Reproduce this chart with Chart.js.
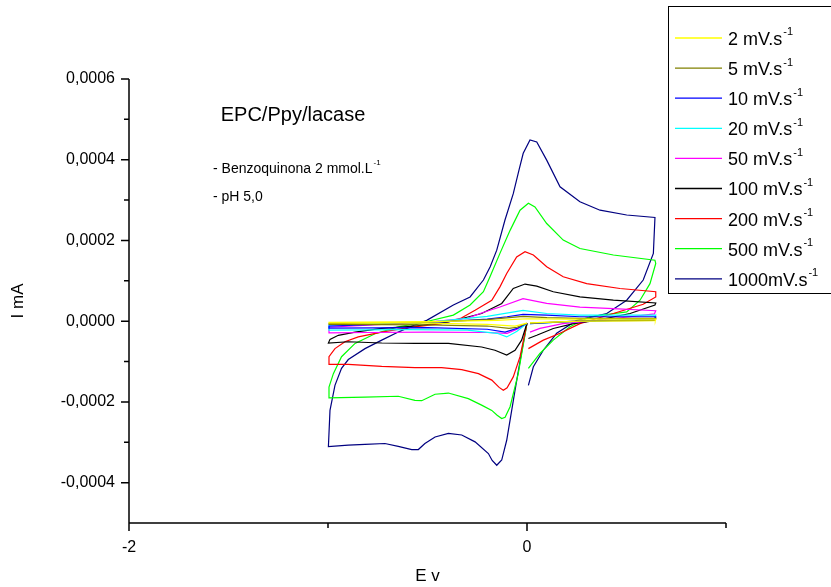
<!DOCTYPE html>
<html>
<head>
<meta charset="utf-8">
<script src="https://cdn.jsdelivr.net/npm/chart.js@4.4.0/dist/chart.umd.min.js"></script>
<style>
  html, body { margin: 0; padding: 0; background: #fff; }
  #wrap { width: 831px; height: 587px; }
</style>
</head>
<body>
<div id="wrap"><canvas id="cv" width="831" height="587"></canvas></div>
<script>
// cyclic voltammograms, E (V) vs I (mA), one scan per rate: 0 -> -1 -> +0.65 -> 0
var rateLabels = ['2 mV.s', '5 mV.s', '10 mV.s', '20 mV.s', '50 mV.s', '100 mV.s', '200 mV.s', '500 mV.s', '1000mV.s'];
var rateColors = ['#FFFF00', '#808000', '#0000FF', '#00FFFF', '#FF00FF', '#000000', '#FF0000', '#00FF00', '#000080'];

var e2 = [0.000, -0.060, -0.200, -0.500, -0.998, -0.995, -0.500, -0.150, 0.000, 0.200, 0.647, 0.645, 0.266, 0.015];
var i2 = [-0.05e-4, -0.12e-4, -0.08e-4, -0.05e-4, -0.04e-4, -0.03e-4, -0.01e-4, 0.02e-4, 0.06e-4, 0.05e-4, 0.05e-4, 0.01e-4, 0.00e-4, -0.04e-4];

var e5 = [0.000, -0.050, -0.090, -0.200, -0.500, -0.998, -0.995, -0.500, -0.200, -0.020, 0.100, 0.266, 0.647, 0.645, 0.266, 0.015];
var i5 = [-0.05e-4, -0.15e-4, -0.18e-4, -0.12e-4, -0.09e-4, -0.08e-4, -0.06e-4, -0.02e-4, 0.04e-4, 0.12e-4, 0.09e-4, 0.07e-4, 0.07e-4, 0.02e-4, 0.00e-4, -0.05e-4];

var e10 = [0.000, -0.050, -0.110, -0.200, -0.500, -0.998, -0.995, -0.700, -0.400, -0.200, -0.100, -0.020, 0.099, 0.266, 0.647, 0.645, 0.266, 0.015];
var i10 = [-0.05e-4, -0.18e-4, -0.27e-4, -0.20e-4, -0.16e-4, -0.17e-4, -0.12e-4, -0.07e-4, -0.01e-4, 0.05e-4, 0.11e-4, 0.17e-4, 0.15e-4, 0.11e-4, 0.11e-4, 0.04e-4, 0.01e-4, -0.06e-4];

var e20 = [0.000, -0.050, -0.102, -0.150, -0.300, -0.600, -0.998, -0.995, -0.500, -0.200, -0.020, 0.099, 0.266, 0.647, 0.640, 0.434, 0.180, 0.015];
var i20 = [-0.05e-4, -0.25e-4, -0.39e-4, -0.30e-4, -0.22e-4, -0.21e-4, -0.22e-4, -0.10e-4, -0.03e-4, 0.12e-4, 0.27e-4, 0.19e-4, 0.15e-4, 0.15e-4, 0.07e-4, 0.02e-4, -0.02e-4, -0.06e-4];

var e50 = [0.000, -0.050, -0.100, -0.200, -0.500, -0.800, -0.998, -0.995, -0.800, -0.500, -0.300, -0.236, -0.136, -0.020, 0.099, 0.266, 0.434, 0.647, 0.640, 0.518, 0.350, 0.180, 0.065, 0.015];
var i50 = [-0.05e-4, -0.20e-4, -0.30e-4, -0.28e-4, -0.27e-4, -0.28e-4, -0.29e-4, -0.15e-4, -0.10e-4, -0.02e-4, 0.07e-4, 0.19e-4, 0.35e-4, 0.56e-4, 0.44e-4, 0.35e-4, 0.31e-4, 0.26e-4, 0.18e-4, 0.11e-4, 0.02e-4, -0.06e-4, -0.18e-4, -0.27e-4];

var e100 = [0.000, -0.027, -0.060, -0.102, -0.161, -0.228, -0.395, -0.563, -0.730, -0.898, -0.998,
            -0.990, -0.948, -0.864, -0.730, -0.563, -0.395, -0.228, -0.127, -0.069, -0.010, 0.049, 0.132, 0.266, 0.434, 0.647,
            0.643, 0.518, 0.350, 0.233, 0.132, 0.049, 0.007];
var i100 = [-0.05e-4, -0.47e-4, -0.72e-4, -0.84e-4, -0.72e-4, -0.64e-4, -0.55e-4, -0.55e-4, -0.54e-4, -0.51e-4, -0.54e-4,
            -0.45e-4, -0.35e-4, -0.27e-4, -0.18e-4, -0.12e-4, -0.02e-4, 0.19e-4, 0.44e-4, 0.81e-4, 0.92e-4, 0.87e-4, 0.73e-4, 0.60e-4, 0.52e-4, 0.45e-4,
            0.40e-4, 0.19e-4, 0.02e-4, -0.06e-4, -0.18e-4, -0.35e-4, -0.43e-4];

var e200 = [0.000, -0.035, -0.069, -0.100, -0.119, -0.140, -0.177, -0.244, -0.328, -0.429, -0.563, -0.730, -0.898, -0.998,
            -0.995, -0.965, -0.915, -0.848, -0.730, -0.596, -0.429, -0.330, -0.261, -0.177, -0.136, -0.102, -0.052, -0.010, 0.032, 0.099, 0.182, 0.300, 0.467, 0.647,
            0.647, 0.584, 0.434, 0.266, 0.166, 0.082, 0.007];
var i200 = [-0.05e-4, -0.88e-4, -1.38e-4, -1.65e-4, -1.71e-4, -1.64e-4, -1.46e-4, -1.30e-4, -1.20e-4, -1.15e-4, -1.15e-4, -1.12e-4, -1.07e-4, -1.07e-4,
            -0.88e-4, -0.68e-4, -0.51e-4, -0.39e-4, -0.27e-4, -0.16e-4, -0.06e-4, 0.08e-4, 0.27e-4, 0.52e-4, 0.85e-4, 1.18e-4, 1.59e-4, 1.72e-4, 1.64e-4, 1.35e-4, 1.10e-4, 0.93e-4, 0.81e-4, 0.73e-4,
            0.60e-4, 0.42e-4, 0.19e-4, -0.06e-4, -0.30e-4, -0.47e-4, -0.68e-4];

var e500 = [0.000, -0.044, -0.085, -0.110, -0.127, -0.150, -0.177, -0.228, -0.295, -0.395, -0.462, -0.529, -0.563, -0.647, -0.814, -0.998,
            -0.995, -0.973, -0.932, -0.864, -0.764, -0.647, -0.513, -0.370, -0.286, -0.219, -0.186, -0.136, -0.085, -0.035, 0.007, 0.040, 0.099, 0.182, 0.266, 0.434, 0.643,
            0.647, 0.618, 0.568, 0.501, 0.317, 0.216, 0.132, 0.065, 0.007];
var i500 = [-0.05e-4, -1.30e-4, -2.12e-4, -2.38e-4, -2.41e-4, -2.33e-4, -2.21e-4, -2.08e-4, -1.92e-4, -1.78e-4, -1.81e-4, -1.97e-4, -1.96e-4, -1.86e-4, -1.88e-4, -1.90e-4,
            -1.63e-4, -1.30e-4, -0.88e-4, -0.55e-4, -0.31e-4, -0.14e-4, -0.02e-4, 0.15e-4, 0.40e-4, 0.73e-4, 1.10e-4, 1.68e-4, 2.25e-4, 2.75e-4, 2.92e-4, 2.83e-4, 2.42e-4, 2.01e-4, 1.80e-4, 1.64e-4, 1.51e-4,
            1.43e-4, 0.93e-4, 0.52e-4, 0.23e-4, 0.11e-4, -0.14e-4, -0.47e-4, -0.80e-4, -1.17e-4];

var e1000 = [0.000, -0.030, -0.060, -0.102, -0.127, -0.152, -0.175, -0.194, -0.261, -0.328, -0.395, -0.462, -0.513, -0.546, -0.579, -0.647, -0.714, -0.814, -0.898, -0.998,
             -0.990, -0.965, -0.932, -0.898, -0.814, -0.730, -0.647, -0.588, -0.504, -0.370, -0.286, -0.219, -0.185, -0.152, -0.111, -0.069, -0.040, -0.019, 0.015, 0.049, 0.099, 0.166, 0.266, 0.367, 0.501, 0.643,
             0.635, 0.584, 0.501, 0.401, 0.250, 0.149, 0.082, 0.032, 0.007];
var i1000 = [-0.05e-4, -0.85e-4, -1.71e-4, -2.95e-4, -3.44e-4, -3.57e-4, -3.45e-4, -3.28e-4, -2.99e-4, -2.82e-4, -2.78e-4, -2.87e-4, -3.03e-4, -3.18e-4, -3.18e-4, -3.10e-4, -3.03e-4, -3.05e-4, -3.07e-4, -3.11e-4,
             -2.21e-4, -1.59e-4, -1.17e-4, -0.95e-4, -0.68e-4, -0.47e-4, -0.27e-4, -0.14e-4, 0.02e-4, 0.40e-4, 0.60e-4, 1.02e-4, 1.35e-4, 1.76e-4, 2.50e-4, 3.16e-4, 3.75e-4, 4.16e-4, 4.49e-4, 4.44e-4, 3.99e-4, 3.33e-4, 2.96e-4, 2.75e-4, 2.63e-4, 2.57e-4,
             1.68e-4, 1.02e-4, 0.52e-4, 0.19e-4, 0.02e-4, -0.30e-4, -0.72e-4, -1.13e-4, -1.59e-4];

var eSeries = [e2, e5, e10, e20, e50, e100, e200, e500, e1000];
var iSeries = [i2, i5, i10, i20, i50, i100, i200, i500, i1000];

var xTicks = [-2, 0];
var xTickLabels = ['-2', '0'];
var xMinorTicks = [-1, 1];
var yTicks = [-0.0004, -0.0002, 0, 0.0002, 0.0004, 0.0006];
var yTickLabels = ['-0,0004', '-0,0002', '0,0000', '0,0002', '0,0004', '0,0006'];
var yMinorTicks = [-0.0003, -0.0001, 0.0001, 0.0003, 0.0005];

var FONT = "'Liberation Sans', Arial, sans-serif";

function drawSup(ctx, text, sup, x, y, size) {
  ctx.font = size + 'px ' + FONT;
  ctx.textAlign = 'left';
  ctx.textBaseline = 'middle';
  ctx.fillText(text, x, y);
  var w = ctx.measureText(text).width;
  ctx.font = Math.round(size * 0.6) + 'px ' + FONT;
  ctx.fillText(sup, x + w + 1, y - size * 0.42);
}

var axesPlugin = {
  id: 'axes',
  afterDraw: function(chart) {
    var ctx = chart.ctx, x = chart.scales.x, y = chart.scales.y;
    var left = x.getPixelForValue(x.min), right = x.getPixelForValue(x.max);
    var top = y.getPixelForValue(y.max), bottom = y.getPixelForValue(y.min);
    ctx.save();
    ctx.strokeStyle = '#000';
    ctx.lineWidth = 1.5;
    ctx.beginPath();
    ctx.moveTo(left, top); ctx.lineTo(left, bottom); ctx.lineTo(right, bottom);
    yTicks.forEach(function(v) { var p = y.getPixelForValue(v); ctx.moveTo(left, p); ctx.lineTo(left - 8, p); });
    yMinorTicks.forEach(function(v) { var p = y.getPixelForValue(v); ctx.moveTo(left, p); ctx.lineTo(left - 5, p); });
    xTicks.forEach(function(v) { var p = x.getPixelForValue(v); ctx.moveTo(p, bottom); ctx.lineTo(p, bottom + 8); });
    xMinorTicks.forEach(function(v) { var p = x.getPixelForValue(v); ctx.moveTo(p, bottom); ctx.lineTo(p, bottom + 5); });
    ctx.stroke();

    // notes
    ctx.fillStyle = '#000';
    ctx.font = '20px ' + FONT;
    ctx.textAlign = 'center';
    ctx.textBaseline = 'middle';
    ctx.fillText('EPC/Ppy/lacase', 293, 115);
    drawSup(ctx, '- Benzoquinona 2 mmol.L', '-1', 213, 169, 14);
    ctx.font = '14px ' + FONT;
    ctx.fillText('- pH 5,0', 213, 197);

    // legend box
    ctx.lineWidth = 1;
    ctx.strokeRect(668.5, 6.5, 200, 287);
    chart.data.datasets.forEach(function(ds, i) {
      var yy = 38 + i * 30.1;
      ctx.strokeStyle = ds.borderColor;
      ctx.lineWidth = 1.3;
      ctx.beginPath(); ctx.moveTo(675, yy); ctx.lineTo(722, yy); ctx.stroke();
      ctx.fillStyle = '#000';
      drawSup(ctx, ds.label, '-1', 728, yy + 2, 18);
    });
    ctx.restore();
  }
};

var datasets = rateLabels.map(function(lab, k) {
  return {
    label: lab,
    data: eSeries[k].map(function(e, j) { return {x: e, y: iSeries[k][j]}; }),
    borderColor: rateColors[k],
    backgroundColor: rateColors[k],
    borderWidth: 1.2,
    showLine: true,
    pointRadius: 0,
    tension: 0,
    fill: false
  };
});

var chart = new Chart(document.getElementById('cv'), {
  type: 'scatter',
  data: { datasets: datasets },
  options: {
    responsive: false,
    animation: false,
    layout: { padding: { left: 0, top: 79, right: 105, bottom: 0 } },
    plugins: { legend: { display: false }, tooltip: { enabled: false } },
    scales: {
      x: {
        type: 'linear', min: -2, max: 1,
        grid: { display: false, drawTicks: false },
        border: { display: false },
        afterBuildTicks: function(s) { s.ticks = xTicks.map(function(v) { return {value: v}; }); },
        afterFit: function(s) { s.height = 64; },
        ticks: {
          padding: 15, color: '#000', maxRotation: 0,
          font: { family: FONT, size: 16 },
          callback: function(v, i) { return xTickLabels[i]; }
        },
        title: { display: true, text: 'E v', color: '#000', font: { family: FONT, size: 17 }, padding: { top: 0, bottom: 0 } }
      },
      y: {
        type: 'linear', min: -0.0005, max: 0.0006,
        grid: { display: false, drawTicks: false },
        border: { display: false },
        afterBuildTicks: function(s) { s.ticks = yTicks.map(function(v) { return {value: v}; }); },
        afterFit: function(s) { s.width = 129; },
        ticks: {
          padding: 14, color: '#000',
          font: { family: FONT, size: 16 },
          callback: function(v, i) { return yTickLabels[i]; }
        },
        title: { display: true, text: 'I mA', color: '#000', font: { family: FONT, size: 17 }, padding: { top: 8, bottom: 0 } }
      }
    }
  },
  plugins: [axesPlugin]
});
</script>
</body>
</html>
